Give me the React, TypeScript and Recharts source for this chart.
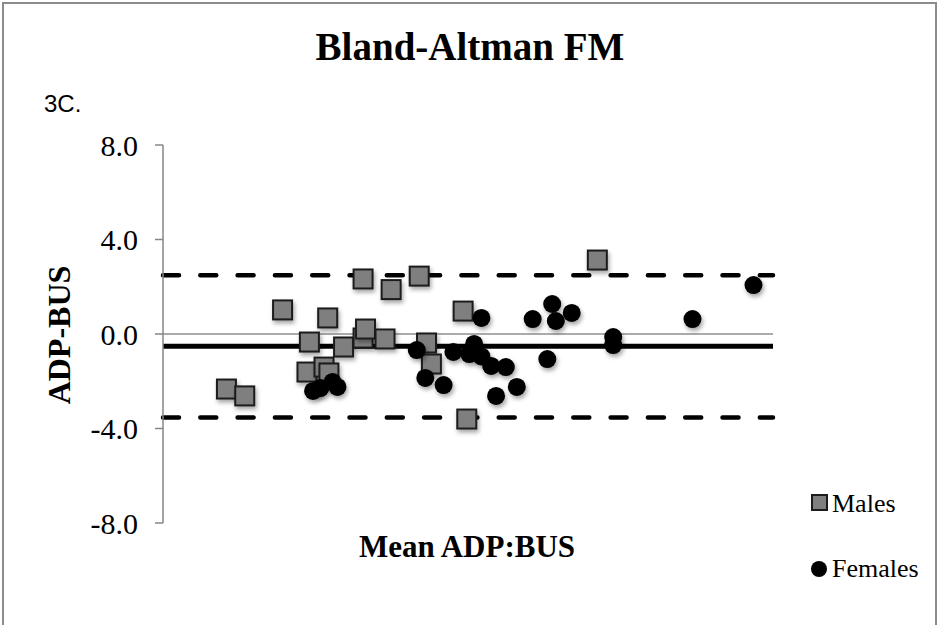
import { ScatterChart, Scatter, XAxis, YAxis, ReferenceLine } from "recharts"

// mean of the two methods (kg) and their difference, males
const maleMean = [5.2, 6.7, 9.8, 11.8, 12.0, 13.2, 13.5, 13.6, 14.8, 16.4, 16.4, 16.6, 18.2, 18.7, 21.0, 21.6, 22.0, 24.6, 24.9, 35.6]
const maleDiff = [-2.33, -2.62, 1.02, -1.61, -0.34, -1.4, 0.68, -1.65, -0.55, 2.33, -0.17, 0.21, -0.21, 1.88, 2.45, -0.38, -1.27, 0.97, -3.6, 3.13]

// same for females
const femaleMean = [12.3, 12.9, 13.9, 14.3, 20.8, 21.5, 23.0, 23.8, 25.1, 25.5, 26.1, 26.1, 26.9, 27.3, 28.1, 29.0, 30.3, 31.5, 31.9, 32.2, 33.5, 36.9, 36.9, 43.4, 48.4]
const femaleDiff = [-2.41, -2.29, -2.03, -2.24, -0.68, -1.86, -2.16, -0.76, -0.85, -0.42, -0.95, 0.68, -1.35, -2.62, -1.4, -2.24, 0.63, -1.06, 1.27, 0.55, 0.89, -0.13, -0.47, 0.63, 2.07]

const yTicks = [-8, -4, 0, 4, 8]
const meanDiff = -0.52
const upperLoA = 2.49
const lowerLoA = -3.53

const serif = "Liberation Serif, Times New Roman, Times, DejaVu Serif, serif"

const SquareMark = ({ cx, cy }: any) => (
  <rect x={cx - 9.5} y={cy - 9.5} width={19} height={19} fill="#7f7f7f" stroke="#1c1c1c" strokeWidth={2} filter="url(#markShadow)" />
)

const DotMark = ({ cx, cy }: any) => (
  <circle cx={cx} cy={cy} r={9} fill="#000" filter="url(#markShadow)" />
)

export default function App() {
  const males = maleMean.map((x, i) => ({ x, y: maleDiff[i] }))
  const females = femaleMean.map((x, i) => ({ x, y: femaleDiff[i] }))

  return (
    <div style={{ position: "fixed", left: 0, top: 0, width: 940, height: 625, overflow: "hidden", background: "#fff", fontFamily: serif }}>
      <div style={{ position: "absolute", left: 2, top: 2, width: 935, height: 700, border: "2px solid #8c8c8c", boxSizing: "border-box" }} />
      <div style={{ position: "absolute", left: 0, top: 0 }}>
        <ScatterChart width={940} height={625} margin={{ top: 145, right: 167, bottom: 102, left: 103 }}>
          <defs>
            <filter id="markShadow" x="-50%" y="-50%" width="200%" height="200%">
              <feDropShadow dx={1.5} dy={3} stdDeviation={2} floodColor="#000" floodOpacity={0.35} />
            </filter>
          </defs>
          <XAxis type="number" dataKey="x" domain={[0, 50]} hide />
          <YAxis
            type="number" dataKey="y" domain={[-8, 8]} ticks={yTicks}
            tickFormatter={(v: number) => v.toFixed(1)}
            width={60} tickSize={8} tickMargin={17}
            axisLine={{ stroke: "#868686", strokeWidth: 1.5 }}
            tickLine={{ stroke: "#868686", strokeWidth: 1.5 }}
            tick={{ fontSize: 30, fill: "#000", fontFamily: serif }}
          />
          <ReferenceLine y={0} stroke="#8f8f8f" strokeWidth={1.5} />
          <ReferenceLine y={meanDiff} stroke="#000" strokeWidth={5} />
          <ReferenceLine y={upperLoA} stroke="#000" strokeWidth={4.5} strokeDasharray="16 21.3" strokeLinecap="round" />
          <ReferenceLine y={lowerLoA} stroke="#000" strokeWidth={4.5} strokeDasharray="16 21.3" strokeLinecap="round" />
          <Scatter name="Males" data={males} shape={<SquareMark />} isAnimationActive={false} />
          <Scatter name="Females" data={females} shape={<DotMark />} isAnimationActive={false} />
        </ScatterChart>
      </div>
      <svg width={940} height={625} style={{ position: "absolute", left: 0, top: 0, pointerEvents: "none" }}>
        <text x={470} y={60} textAnchor="middle" style={{ fontFamily: serif }} fontWeight="bold" fontSize={39} fill="#000">Bland-Altman FM</text>
        <text x={44} y={112} style={{ fontFamily: "Liberation Sans, Arial, sans-serif" }} fontSize={24} fill="#000">3C.</text>
        <text x={70} y={335} transform="rotate(-90 70 335)" textAnchor="middle" style={{ fontFamily: serif }} fontWeight="bold" fontSize={32} fill="#000">ADP-BUS</text>
        <text x={467} y={557} textAnchor="middle" style={{ fontFamily: serif }} fontWeight="bold" fontSize={31} fill="#000">Mean ADP:BUS</text>
        {/* legend */}
        <rect x={812} y={495} width={15} height={15} fill="#7f7f7f" stroke="#1c1c1c" strokeWidth={2} />
        <text x={832} y={512} style={{ fontFamily: serif }} fontSize={26} fill="#000">Males</text>
        <circle cx={819} cy={569} r={8} fill="#000" />
        <text x={832} y={577} style={{ fontFamily: serif }} fontSize={26} fill="#000">Females</text>
      </svg>
    </div>
  )
}
